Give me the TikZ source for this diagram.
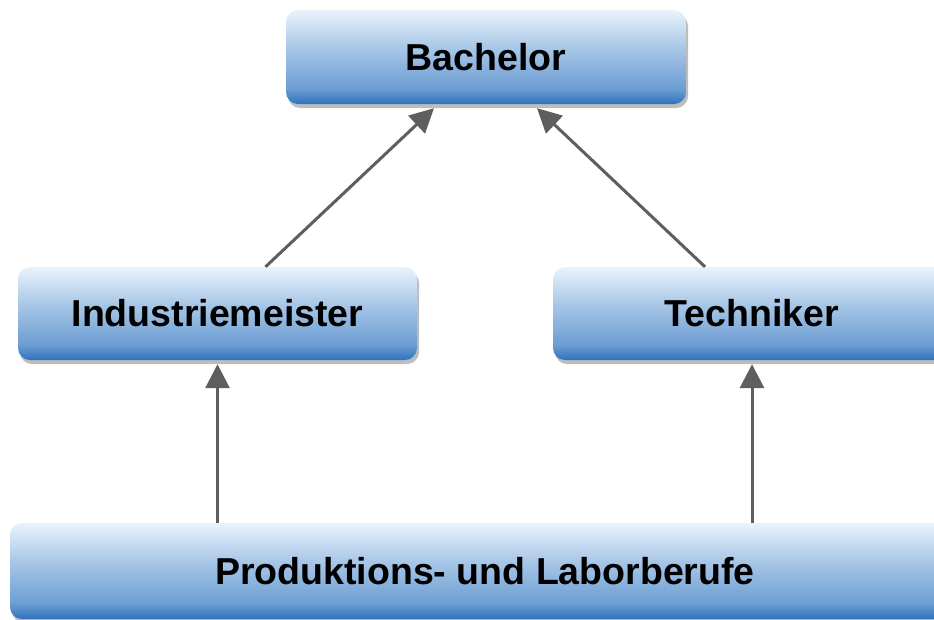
\documentclass[tikz,border=0pt]{standalone}
\usepackage{fontspec}
\setmainfont{Liberation Sans}
\usetikzlibrary{arrows.meta,shadows,calc}
\definecolor{bdark}{HTML}{2E72BE}
\definecolor{bmid2}{HTML}{6C9DD3}
\definecolor{bmid}{HTML}{A8C7E7}
\definecolor{blight}{HTML}{EAF3FC}
\definecolor{arrowgray}{HTML}{5E5E5E}
\definecolor{shadowgray}{HTML}{BDBDBD}
\pgfdeclareverticalshading{boxshade}{100bp}{color(0bp)=(bdark); color(25bp)=(bdark); color(33bp)=(bmid2); color(55bp)=(bmid); color(75bp)=(blight); color(100bp)=(blight)}
\tikzset{
  box/.style={rectangle, rounded corners=12pt, shading=boxshade,
    drop shadow={shadow xshift=2pt, shadow yshift=-4pt, fill=shadowgray, opacity=1},
    font=\bfseries\fontsize{37.5}{45}\selectfont, text=black, inner sep=0pt},
  conn/.style={draw=arrowgray, line width=3pt,
    -{Triangle[length=24pt,width=24pt]}, arrowgray}
}
\begin{document}
\begin{tikzpicture}[x=1pt,y=-1pt]
\useasboundingbox (0,0) rectangle (934,619);
\clip (0,0) rectangle (934,619);
\node[box, minimum width=400pt, minimum height=94pt] (ba) at (486,57) {Bachelor};
\node[box, minimum width=399pt, minimum height=93pt] (im) at (217.5,313.5) {Industriemeister};
\node[box, minimum width=398pt, minimum height=93pt] (te) at (752,313.5) {Techniker};
\node[box, minimum width=950pt, minimum height=96pt] (pl) at (485,571) {Produktions- und Laborberufe};
\draw[conn] ($(im.north)+(48,0)$) -- ($(ba.south)+(-52,4)$);
\draw[conn] ($(te.north)+(-47,0)$) -- ($(ba.south)+(51,4)$);
\draw[conn] (pl.north -| im.south) -- ($(im.south)+(0,4)$);
\draw[conn] (pl.north -| te.south) -- ($(te.south)+(0,4)$);
\end{tikzpicture}
\end{document}
